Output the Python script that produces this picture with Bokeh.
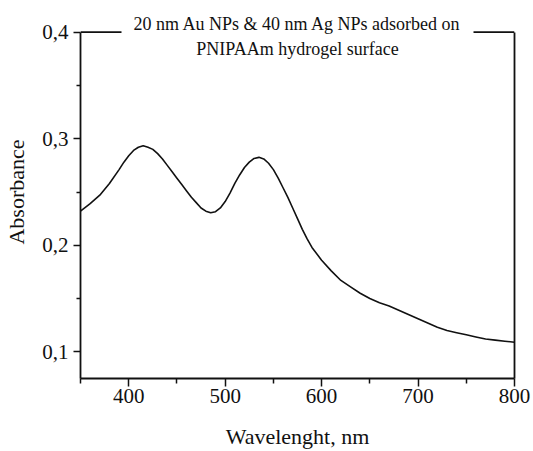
from bokeh.plotting import figure
from bokeh.models import Range1d, FixedTicker, LinearAxis, Label, Span, CustomJSTickFormatter
from bokeh.embed import file_html
from bokeh.resources import INLINE

# Data
wavelength = [350, 360, 370, 380, 390, 395, 400, 405, 410, 415, 420, 425, 430, 435,
              440, 445, 450, 455, 460, 465, 470, 475, 480, 485, 490, 495, 500, 505,
              510, 515, 520, 525, 530, 535, 540, 545, 550, 555, 560, 565, 570, 575,
              580, 585, 590, 600, 610, 620, 630, 640, 650, 660, 670, 680, 690, 700,
              710, 720, 730, 740, 750, 760, 770, 780, 790, 800]
absorbance = [0.232, 0.239, 0.247, 0.258, 0.271, 0.278, 0.284, 0.289, 0.292, 0.2935,
              0.292, 0.290, 0.286, 0.281, 0.275, 0.269, 0.263, 0.257, 0.251, 0.245,
              0.240, 0.235, 0.232, 0.2305, 0.2315, 0.235, 0.241, 0.249, 0.258, 0.266,
              0.273, 0.278, 0.2815, 0.2825, 0.281, 0.277, 0.271, 0.263, 0.254, 0.245,
              0.235, 0.225, 0.215, 0.206, 0.198, 0.186, 0.176, 0.167, 0.161, 0.155,
              0.150, 0.146, 0.143, 0.139, 0.135, 0.131, 0.127, 0.123, 0.120, 0.118,
              0.116, 0.114, 0.112, 0.111, 0.110, 0.109]

x_major = [400, 500, 600, 700, 800]
x_minor = [350, 450, 550, 650, 750]
y_major = [0.1, 0.2, 0.3, 0.4]
y_minor = [0.15, 0.25, 0.35]
x_limits = (350, 800)
y_limits = (0.075, 0.4)

title_text = "20 nm Au NPs & 40 nm Ag NPs adsorbed on\nPNIPAAm hydrogel surface"
x_label = "Wavelenght, nm"
y_label = "Absorbance"

FONT = "Liberation Serif"
INK = "#111111"

# frame extends a little above the top of the box so the title can sit across its top edge
p = figure(width=533, height=451, output_backend="svg", toolbar_location=None,
           x_range=Range1d(*x_limits), y_range=Range1d(y_limits[0], 0.425),
           min_border_left=80, min_border_right=19, min_border_top=5, min_border_bottom=69)
p.background_fill_color = "white"
p.border_fill_color = "white"
p.outline_line_color = None
p.grid.visible = False

p.line(wavelength, absorbance, line_color=INK, line_width=1.6)

def style_axis(ax):
    ax.axis_line_color = INK
    ax.axis_line_width = 1.8
    ax.major_tick_line_color = INK
    ax.major_tick_line_width = 1.5
    ax.minor_tick_line_color = INK
    ax.minor_tick_line_width = 1.5
    ax.major_tick_in = 0
    ax.minor_tick_in = 0
    ax.major_label_text_font = FONT
    ax.major_label_text_font_size = "21px"
    ax.major_label_text_color = INK
    ax.axis_label_text_font = FONT
    ax.axis_label_text_font_size = "22px"
    ax.axis_label_text_font_style = "normal"
    ax.axis_label_text_color = INK

xa = p.xaxis[0]
style_axis(xa)
xa.ticker = FixedTicker(ticks=x_major, minor_ticks=x_minor)
xa.major_tick_out = 8
xa.minor_tick_out = 5
xa.major_label_standoff = 2
xa.axis_label = x_label
xa.axis_label_standoff = 18

ya = p.yaxis[0]
style_axis(ya)
ya.bounds = y_limits
ya.ticker = FixedTicker(ticks=y_major, minor_ticks=y_minor)
ya.major_tick_out = 7
ya.minor_tick_out = 4
ya.major_label_standoff = 5
ya.formatter = CustomJSTickFormatter(code="return tick.toFixed(1).replace('.', ',');")
ya.axis_label = y_label
ya.axis_label_standoff = 10

right_axis = LinearAxis(ticker=FixedTicker(ticks=[]), bounds=y_limits, axis_line_color=INK,
                        axis_line_width=1.8, major_tick_out=0, minor_tick_out=0,
                        major_tick_in=0, minor_tick_in=0, major_label_text_font_size="0px")
p.add_layout(right_axis, "right")

top_edge = Span(location=y_limits[1], dimension="width", line_color=INK, line_width=1.8,
                level="underlay")
p.add_layout(top_edge)

title = Label(x=sum(x_limits) / 2, y=y_limits[1], y_offset=-4, text=title_text,
              text_align="center", text_baseline="middle", text_font=FONT,
              text_font_size="18px", text_color=INK, text_line_height=1.25,
              background_fill_color="white", background_fill_alpha=1.0,
              padding=12, level="overlay")
p.add_layout(title)

open("out.html", "w").write(file_html(p, INLINE))
